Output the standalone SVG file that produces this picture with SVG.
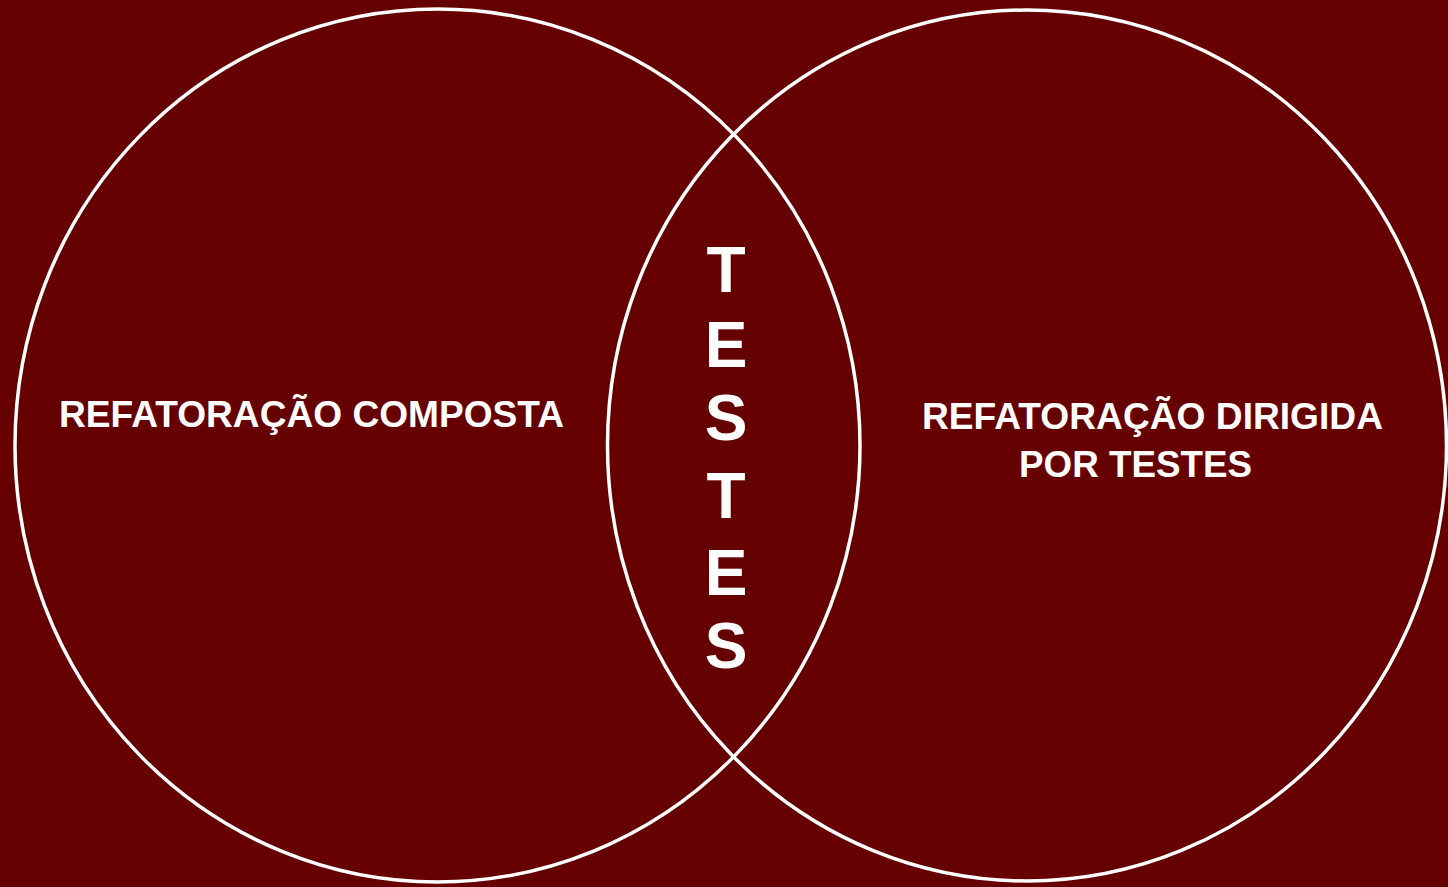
<svg xmlns="http://www.w3.org/2000/svg" width="1448" height="887" viewBox="0 0 1448 887">
<style>
.ring{fill:none;stroke:#ffffff;stroke-width:3.5}
.lbl{font-family:"Liberation Sans",Arial,sans-serif;font-weight:bold;fill:#ffffff;font-size:37px}
.big{font-family:"Liberation Sans",Arial,sans-serif;font-weight:bold;fill:#ffffff;font-size:64px;text-anchor:middle}
</style>
<rect x="0" y="0" width="1448" height="887" fill="#660000"/>
<g id="left">
<ellipse class="ring" cx="437.5" cy="445.5" rx="422.5" ry="436.5"/>
<text class="lbl" x="59" y="427" textLength="505" lengthAdjust="spacingAndGlyphs">REFATORAÇÃO COMPOSTA</text>
</g>
<g id="right">
<ellipse class="ring" cx="1027" cy="445.5" rx="419.5" ry="435.5"/>
<text class="lbl" x="922" y="429" textLength="461" lengthAdjust="spacingAndGlyphs">REFATORAÇÃO DIRIGIDA</text>
<text class="lbl" x="1019" y="477" textLength="233" lengthAdjust="spacingAndGlyphs">POR TESTES</text>
</g>
<g id="overlap">
<text class="big" x="726" y="292">T</text>
<text class="big" x="726" y="367">E</text>
<text class="big" x="726" y="440">S</text>
<text class="big" x="726" y="518">T</text>
<text class="big" x="726" y="595">E</text>
<text class="big" x="726" y="668">S</text>
</g>
<g id="connectors"></g>
</svg>
